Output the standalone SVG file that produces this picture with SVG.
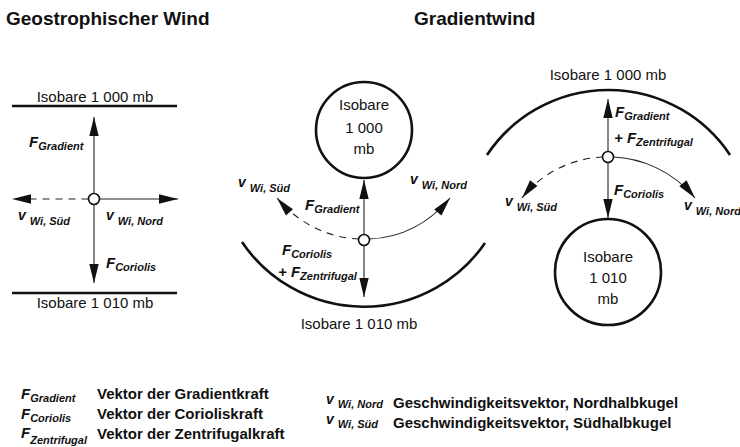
<svg xmlns="http://www.w3.org/2000/svg" width="740" height="447" viewBox="0 0 740 447">
<style>
text{font-family:"Liberation Sans",Arial,sans-serif;fill:#111}
.title{font-size:19px;font-weight:bold}
.lbl{font-size:15px}
.mid{text-anchor:middle}
.f{font-size:15px;font-weight:bold;font-style:italic}
.v{font-size:14px;font-weight:bold;font-style:italic}
.sub{font-size:11px}
.leg{font-size:15px;font-weight:bold}
.iso{fill:none;stroke:#111;stroke-width:2.6}
.arr{fill:none;stroke:#222;stroke-width:1.1;marker-end:url(#ah)}
.dash{stroke-dasharray:7 6}
.pt{fill:#fff;stroke:#111;stroke-width:1.6}
</style>
<defs>
<marker id="ah" markerUnits="userSpaceOnUse" markerWidth="20" markerHeight="10" refX="19" refY="5" orient="auto" overflow="visible">
<path d="M0,0.3 L19,5 L0,9.7 z" fill="#111"/>
</marker>
</defs>

<text class="title" x="6" y="25">Geostrophischer Wind</text>
<text class="title" x="414" y="25">Gradientwind</text>

<!-- Left panel: geostrophic wind -->
<g id="geo-isobar-top">
<line class="iso" x1="12" y1="106" x2="177" y2="106"/>
<text class="lbl mid" x="95" y="102">Isobare 1 000 mb</text>
</g>
<g id="geo-isobar-bottom">
<line class="iso" x1="12" y1="293" x2="177" y2="293"/>
<text class="lbl mid" x="95" y="308">Isobare 1 010 mb</text>
</g>

<!-- Middle panel -->
<g id="grad-low">
<circle class="iso" cx="364" cy="130" r="48"/>
<text class="lbl mid" x="364" y="110">Isobare</text>
<text class="lbl mid" x="364" y="133">1 000</text>
<text class="lbl mid" x="364" y="154">mb</text>
</g>
<g id="grad-isobar-1010">
<path class="iso" d="M242 242 A147 147 0 0 0 485 243"/>
<text class="lbl mid" x="359" y="329">Isobare 1 010 mb</text>
</g>

<!-- Right panel -->
<g id="grad2-isobar-1000">
<path class="iso" d="M487 155 A146 146 0 0 1 730 155"/>
<text class="lbl mid" x="608" y="80">Isobare 1 000 mb</text>
</g>
<g id="grad2-high">
<circle class="iso" cx="608" cy="272" r="53"/>
<text class="lbl mid" x="608" y="262">Isobare</text>
<text class="lbl mid" x="608" y="283">1 010</text>
<text class="lbl mid" x="608" y="304">mb</text>
</g>

<g id="connectors">
<!-- left -->
<line class="arr" x1="94" y1="193.5" x2="94" y2="117"/>
<line class="arr" x1="94" y1="204.5" x2="94" y2="283"/>
<line class="arr" x1="99.5" y1="199" x2="178" y2="199"/>
<line class="arr dash" x1="88.5" y1="199" x2="12" y2="199"/>
<!-- middle -->
<line class="arr" x1="364" y1="234.5" x2="364" y2="180"/>
<line class="arr" x1="364" y1="245.5" x2="364" y2="297"/>
<path class="arr" d="M369 239 C395 238 425 228 450 198"/>
<path class="arr dash" d="M359 239 C333 238 303 228 277 198"/>
<!-- right -->
<line class="arr" x1="608" y1="151.5" x2="608" y2="99"/>
<line class="arr" x1="608" y1="162.5" x2="608" y2="218"/>
<path class="arr" d="M613 157 C640 158 672 170 695 198"/>
<path class="arr dash" d="M603 157 C576 158 544 170 522 198"/>
</g>

<g id="geo-point"><circle class="pt" cx="94" cy="199" r="5.5"/></g>
<g id="grad-point"><circle class="pt" cx="364" cy="240" r="5.5"/></g>
<g id="grad2-point"><circle class="pt" cx="608" cy="157" r="5.5"/></g>

<g id="labels">
<text class="f" x="29" y="147">F<tspan class="sub" dy="3">Gradient</tspan></text>
<text class="v" x="18" y="220">v<tspan class="sub" dx="4" dy="5">Wi, Süd</tspan></text>
<text class="v" x="106" y="220">v<tspan class="sub" dx="4" dy="5">Wi, Nord</tspan></text>
<text class="f" x="106" y="268">F<tspan class="sub" dy="3">Coriolis</tspan></text>

<text class="v" x="238" y="187">v<tspan class="sub" dx="4" dy="5">Wi, Süd</tspan></text>
<text class="v" x="410" y="184">v<tspan class="sub" dx="4" dy="5">Wi, Nord</tspan></text>
<text class="f" x="305" y="210">F<tspan class="sub" dy="3">Gradient</tspan></text>
<text class="f" x="282" y="255">F<tspan class="sub" dy="3">Coriolis</tspan></text>
<text class="f" x="278" y="277">+ F<tspan class="sub" dy="3">Zentrifugal</tspan></text>

<text class="f" x="615" y="117">F<tspan class="sub" dy="3">Gradient</tspan></text>
<text class="f" x="614" y="143">+ F<tspan class="sub" dy="3">Zentrifugal</tspan></text>
<text class="f" x="614" y="195">F<tspan class="sub" dy="3">Coriolis</tspan></text>
<text class="v" x="505" y="206">v<tspan class="sub" dx="4" dy="5">Wi, Süd</tspan></text>
<text class="v" x="684" y="210">v<tspan class="sub" dx="4" dy="5">Wi, Nord</tspan></text>
</g>

<g id="legend">
<text class="f" x="21" y="399">F<tspan class="sub" dy="3">Gradient</tspan></text>
<text class="leg" x="97" y="399">Vektor der Gradientkraft</text>
<text class="f" x="21" y="419">F<tspan class="sub" dy="3">Coriolis</tspan></text>
<text class="leg" x="97" y="419">Vektor der Corioliskraft</text>
<text class="f" x="21" y="438">F<tspan class="sub" dy="6">Zentrifugal</tspan></text>
<text class="leg" x="97" y="439">Vektor der Zentrifugalkraft</text>
<text class="v" x="326" y="404">v<tspan class="sub" dx="4" dy="4">Wi, Nord</tspan></text>
<text class="leg" x="393" y="408">Geschwindigkeitsvektor, Nordhalbkugel</text>
<text class="v" x="326" y="424">v<tspan class="sub" dx="4" dy="4">Wi, Süd</tspan></text>
<text class="leg" x="393" y="428">Geschwindigkeitsvektor, Südhalbkugel</text>
</g>
</svg>
